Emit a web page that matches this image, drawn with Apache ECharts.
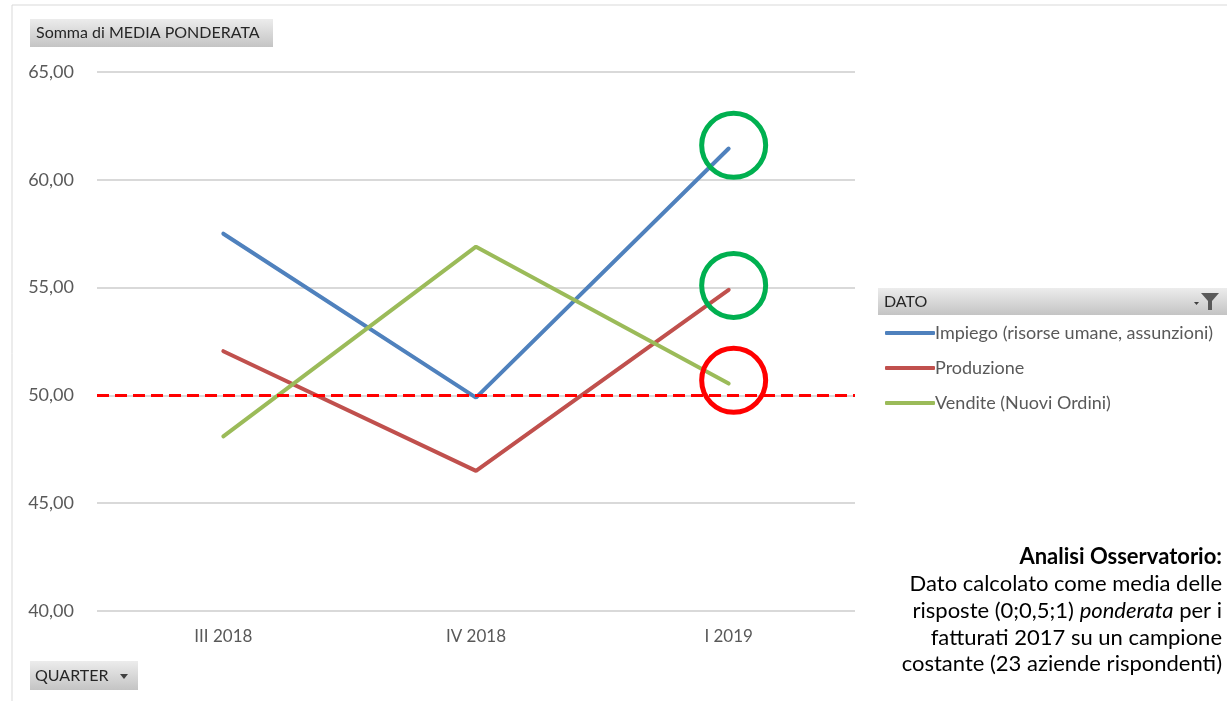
<!DOCTYPE html>
<html><head><meta charset="utf-8">
<script src="https://cdn.jsdelivr.net/npm/echarts@6/dist/echarts.min.js"></script>
<style>html,body{margin:0;padding:0;background:#fff}#c{width:1227px;height:701px}</style>
</head><body><div id="c"></div>
<script>
const categories = ['III 2018', 'IV 2018', 'I 2019'];
const impiego = [57.5, 49.9, 61.45];
const produzione = [52.05, 46.5, 54.9];
const vendite = [48.1, 56.9, 50.55];
const seriesNames = ['Impiego (risorse umane, assunzioni)', 'Produzione', 'Vendite (Nuovi Ordini)'];
const yTicks = { min: 40, max: 65, interval: 5 };
const threshold = 50;
const highlights = [ // [series index, value, colour]
  [0, 61.6, '#00b050'],
  [1, 55.1, '#00b050'],
  [2, 50.7, '#ff0000']
];

const colors = ['#4f81bd', '#c0504d', '#9bbb59'];
const font = 'Lato, "Open Sans", sans-serif';
const chart = echarts.init(document.getElementById('c'));

function btnGrad() {
  return new echarts.graphic.LinearGradient(0, 0, 0, 1, [
    { offset: 0, color: '#ececec' }, { offset: 1, color: '#c4c4c4' }
  ]);
}

const allData = [impiego, produzione, vendite];
const series = allData.map((d, i) => {
  const s = {
    name: seriesNames[i], type: 'line', data: d,
    symbol: 'none', lineStyle: { width: 4, color: colors[i], cap: 'round' },
    itemStyle: { color: colors[i] }, z: 3
  };
  const hl = highlights.filter(h => h[0] === i);
  if (hl.length) {
    s.markPoint = {
      symbol: 'circle', symbolSize: 64, symbolOffset: [5, 0], silent: true,
      label: { show: false },
      data: hl.map(h => ({ coord: [categories[2], h[1]],
        itemStyle: { color: 'rgba(0,0,0,0)', borderColor: h[2], borderWidth: 5 } }))
    };
  }
  if (i === 0) {
    s.markLine = {
      silent: true, symbol: 'none', label: { show: false },
      lineStyle: { color: '#ff0000', type: [12, 6], width: 3 },
      data: [{ yAxis: threshold }]
    };
  }
  return s;
});

const rs = (extra) => Object.assign({ fontSize: 22, fontFamily: font, lineHeight: 26.7, align: 'right', color: '#000' }, extra || {});

chart.setOption({
  animation: false,
  textStyle: { fontFamily: font },
  grid: { left: 97, right: 372, top: 72, bottom: 90 },
  xAxis: {
    type: 'category', data: categories, boundaryGap: true,
    axisLine: { show: false }, axisTick: { show: false },
    axisLabel: { color: '#595959', fontSize: 17, margin: 17, fontFamily: font }
  },
  yAxis: {
    type: 'value', min: yTicks.min, max: yTicks.max, interval: yTicks.interval,
    axisLine: { show: false }, axisTick: { show: false },
    splitLine: { lineStyle: { color: '#d9d9d9', width: 2 } },
    axisLabel: { color: '#595959', fontSize: 18, margin: 23, fontFamily: font,
      formatter: v => v.toFixed(2).replace('.', ',') }
  },
  legend: {
    orient: 'vertical', left: 880, top: 319, itemGap: 17,
    icon: 'roundRect', itemWidth: 50, itemHeight: 4,
    textStyle: { color: '#595959', fontSize: 18, padding: [0, 0, 0, -5], fontFamily: font },
    data: seriesNames
  },
  graphic: [
    { type: 'rect', shape: { x: 12, y: 5, width: 1300, height: 800 }, style: { fill: 'none', stroke: '#d9d9d9', lineWidth: 1 }, silent: true },
    { type: 'rect', shape: { x: 30, y: 19, width: 243, height: 28 }, style: { fill: btnGrad() }, silent: true },
    { type: 'text', x: 36, y: 33, style: { text: 'Somma di MEDIA PONDERATA', fill: '#262626', fontSize: 16, fontFamily: font, verticalAlign: 'middle' }, silent: true },
    { type: 'rect', shape: { x: 30, y: 661, width: 108, height: 29 }, style: { fill: btnGrad() }, silent: true },
    { type: 'text', x: 35, y: 676, style: { text: 'QUARTER', fill: '#262626', fontSize: 16, fontFamily: font, verticalAlign: 'middle' }, silent: true },
    { type: 'polygon', shape: { points: [[120, 674], [128, 674], [124, 679]] }, style: { fill: '#404040' }, silent: true },
    { type: 'rect', shape: { x: 878, y: 288, width: 349, height: 27 }, style: { fill: btnGrad() }, silent: true },
    { type: 'text', x: 884, y: 302, style: { text: 'DATO', fill: '#262626', fontSize: 16, fontFamily: font, verticalAlign: 'middle' }, silent: true },
    { type: 'polygon', shape: { points: [[1201, 293], [1219, 293], [1212, 301], [1212, 310], [1208, 310], [1208, 301]] }, style: { fill: '#595959' }, silent: true },
    { type: 'polygon', shape: { points: [[1194, 302], [1199, 302], [1196.5, 305]] }, style: { fill: '#404040' }, silent: true },
    { type: 'text', x: 1222, y: 544, style: {
        text: '{b|Analisi Osservatorio:}\n{n|Dato calcolato come media delle}\n{n|risposte (0;0,5;1) }{i|ponderata}{n| per i}\n{n|fatturati 2017 su un campione}\n{n|costante (23 aziende rispondenti)}',
        align: 'right', verticalAlign: 'top', fill: '#000', fontSize: 22, fontFamily: font, lineHeight: 26.7,
        rich: {
          b: rs({ fontWeight: 'bold' }),
          n: rs(),
          i: rs({ fontStyle: 'italic' })
        }
      }, silent: true }
  ],
  series: series
});
</script></body></html>
